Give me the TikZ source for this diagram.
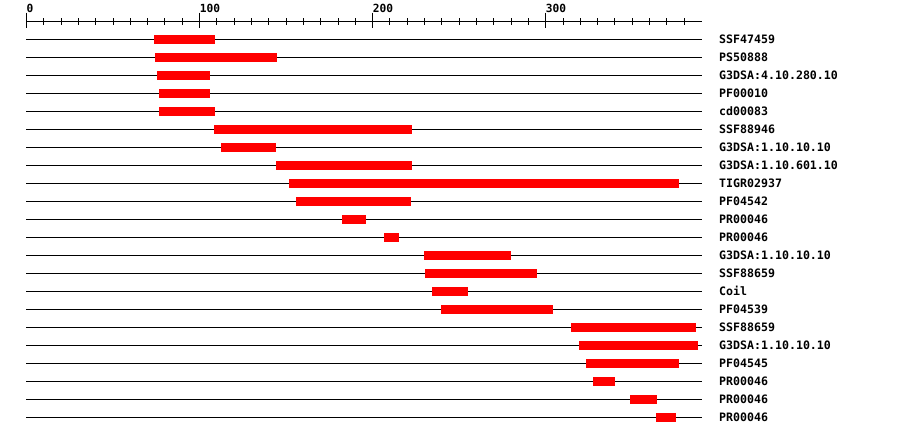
\documentclass[tikz,border=0pt]{standalone}
\usepackage{fontspec}
\newfontfamily\monofont{DejaVu Sans Mono}
\usepackage{tikz}

\begin{document}
\begin{tikzpicture}[
  x=1pt, y=-1pt,
  track/.style={line width=1pt, black},
  hit/.style={fill=red},
  tracklabel/.style={anchor=west, inner sep=0pt,
                     font=\monofont\bfseries\fontsize{11.6}{12}\selectfont},
  ticklabel/.style={anchor=base west, inner sep=0pt,
                    font=\monofont\bfseries\fontsize{11.2}{12}\selectfont}
]
\useasboundingbox (0,0) rectangle (900,436);

% Scale bar
\draw[track] (26.5,21.5) -- (702,21.5);
\foreach \t in {1,...,38}
  \draw[track] ({26.5+17.307*\t},18.3) -- ({26.5+17.307*\t},25);
\foreach \v in {0,100,200,300} {
  \draw[track] ({26.5+1.7307*\v},12.7) -- ({26.5+1.7307*\v},28.3);
  \node[ticklabel] (tick\v) at ({26.5+1.7307*\v},12.3) {\v};
}

% Tracks with hits
\foreach \lab/\xa/\xb [count=\r] in {
  SSF47459/154/215, PS50888/155/277, G3DSA:4.10.280.10/157/210,
  PF00010/159/210, cd00083/159/215, SSF88946/214/412,
  G3DSA:1.10.10.10/221/276, G3DSA:1.10.601.10/276/412, TIGR02937/289/679,
  PF04542/296/411, PR00046/342/366, PR00046/384/399,
  G3DSA:1.10.10.10/424/511, SSF88659/425/537, Coil/432/468,
  PF04539/441/553, SSF88659/571/696, G3DSA:1.10.10.10/579/698,
  PF04545/586/679, PR00046/593/615, PR00046/630/657, PR00046/656/676} {
  \draw[track] (26,{21.3+18*\r}) -- (702,{21.3+18*\r});
  \fill[hit] (\xa,{16.8+18*\r}) rectangle (\xb,{25.8+18*\r});
  \node[tracklabel] (lab\r) at (719,{21.3+18*\r}) {\lab};
}

\end{tikzpicture}
\end{document}
